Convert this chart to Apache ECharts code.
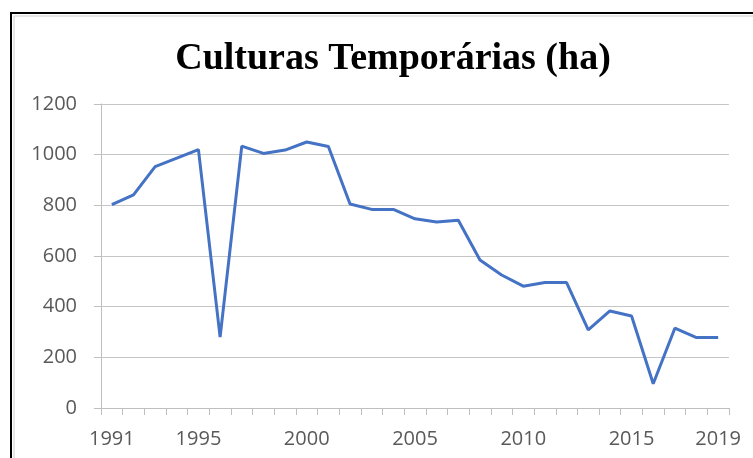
<!DOCTYPE html>
<html>
<head>
<meta charset="utf-8">
<script src="https://cdn.jsdelivr.net/npm/echarts@6/dist/echarts.min.js"></script>
<style>
  html, body { margin: 0; padding: 0; background: #fff; }
  #chart { width: 753px; height: 458px; }
</style>
</head>
<body>
<div id="chart"></div>
<script>
// anos 1991..2019
var years = ['1991','1992','1993','1994','1995','1996','1997','1998','1999','2000',
             '2001','2002','2003','2004','2005','2006','2007','2008','2009','2010',
             '2011','2012','2013','2014','2015','2016','2017','2018','2019'];
// area (ha)
var area = [803, 841, 953, 986, 1020, 280, 1034, 1005, 1018, 1050,
            1032, 805, 784, 784, 747, 734, 741, 584, 525, 481,
            495, 495, 308, 383, 363, 96, 315, 278, 278];
var yTicks = [0, 200, 400, 600, 800, 1000, 1200];
// so alguns anos aparecem no eixo
var shownYears = ['1991','1995','2000','2005','2010','2015','2019'];

var chart = echarts.init(document.getElementById('chart'));
var option = {
    animation: false,
    backgroundColor: '#fff',
    title: {
        text: 'Culturas Temporárias (ha)',
        left: 388,
        top: 35,
        textAlign: 'center',
        textStyle: {
            fontFamily: 'Liberation Serif',
            fontWeight: 'bold',
            fontSize: 38,
            color: '#000'
        }
    },
    graphic: [
        {
            type: 'rect',
            shape: { x: 11, y: 13, width: 800, height: 500 },
            style: { fill: null, stroke: '#000', lineWidth: 2 }
        },
        {
            type: 'rect',
            shape: { x: 14, y: 16, width: 800, height: 500 },
            style: { fill: null, stroke: '#d0d0d0', lineWidth: 1 }
        }
    ],
    grid: {
        left: 101,
        right: 24,
        top: 104,
        bottom: 50
    },
    xAxis: {
        type: 'category',
        data: years,
        boundaryGap: true,
        axisLine: { lineStyle: { color: '#bfbfbf', width: 1 } },
        axisTick: { show: true, interval: 0, length: 7, lineStyle: { color: '#bfbfbf' } },
        axisLabel: {
            interval: function (idx, val) { return shownYears.indexOf(val) >= 0; },
            margin: 21,
            fontFamily: 'Open Sans',
            fontSize: 20,
            color: '#595959'
        },
        splitLine: { show: false }
    },
    yAxis: {
        type: 'value',
        min: yTicks[0],
        max: yTicks[yTicks.length - 1],
        interval: 200,
        axisLine: { show: true, lineStyle: { color: '#bfbfbf', width: 1 } },
        axisTick: { show: true, length: 7, lineStyle: { color: '#bfbfbf' } },
        axisLabel: {
            margin: 24,
            formatter: function (v) { return String(v); },
            fontFamily: 'Open Sans',
            fontSize: 20,
            color: '#595959'
        },
        splitLine: { lineStyle: { color: '#c6c6c6', width: 1 } }
    },
    series: [{
        name: 'Culturas Temporárias',
        type: 'line',
        data: area,
        symbol: 'none',
        lineStyle: { color: '#4472C4', width: 3 }
    }]
};
chart.setOption(option);
</script>
</body>
</html>
